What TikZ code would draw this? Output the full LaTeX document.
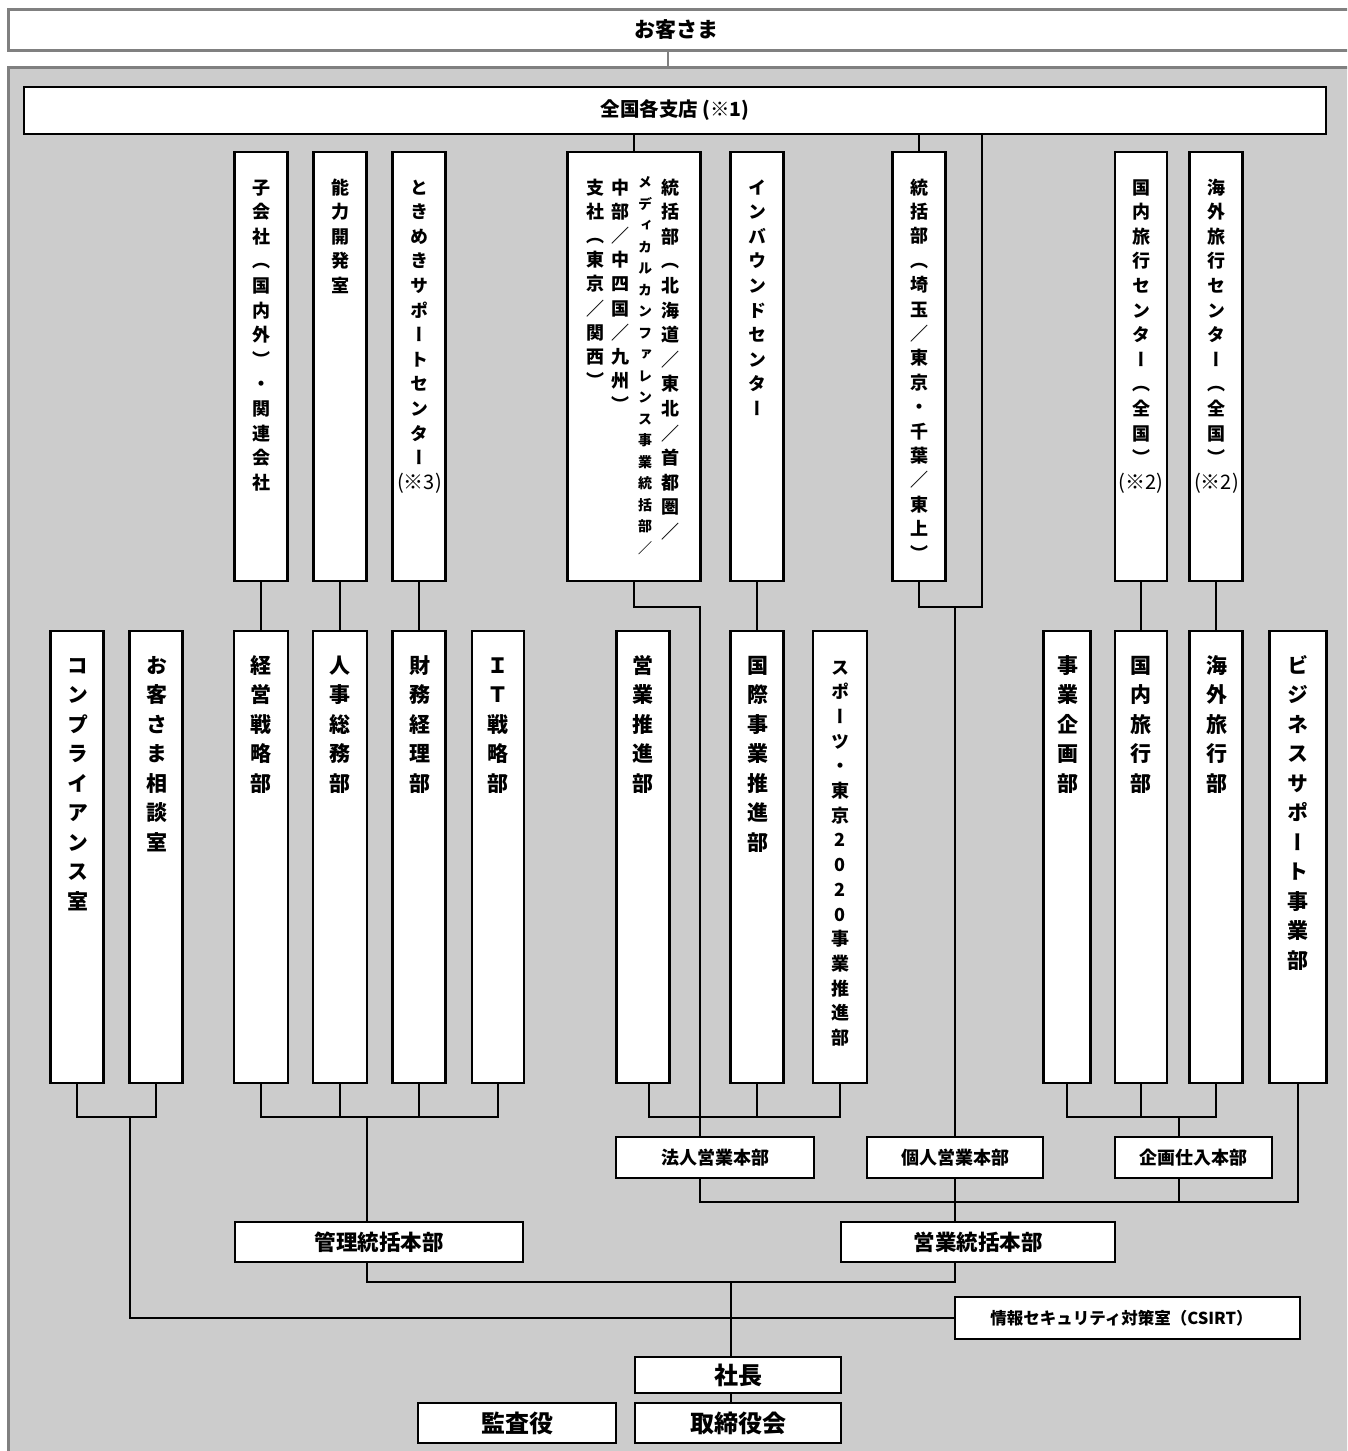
\documentclass[tikz,border=0pt]{standalone}
\usepackage{fontspec}
\usepackage{graphicx}
\newfontfamily\jp{Noto Sans CJK JP}
\newfontfamily\jpv[RawFeature=+vert]{Noto Sans CJK JP}
\definecolor{bggray}{RGB}{204,204,204}
\definecolor{bdgray}{RGB}{128,128,128}
\newcommand\hfont[1]{\fontsize{#1}{#1}\selectfont\jp\bfseries}
\newcommand\SL{{\jp ／}}
\newcommand\note[1]{{\jp\mdseries\fontsize{20}{20}\selectfont(※#1)}}
\makeatletter
\def\vst@end{}
\def\vst@stop{\vst@end}
\newcommand\vstack[3]{\vbox{\fontsize{#1}{#2}\selectfont\jpv\bfseries
  \baselineskip=#2pt\lineskiplimit=-1000pt\lineskip=0pt
  \vst@#3\vst@end}}
\def\vst@#1{\def\vst@tmp{#1}\ifx\vst@tmp\vst@stop\else
  \hbox to 0pt{\hss\rule{0pt}{.88em}#1\hss}\expandafter\vst@\fi}
\makeatother
\newcommand\bx[6]{\node[obox,minimum width=#4,minimum height=#5] (#1) at (#2,#3) {#6};}
\newcommand\vt[6]{\node[anchor=north,inner sep=0pt] (#1) at (#2,#3) {\vstack{#4}{#5}{#6}};}
\tikzset{
  obox/.style={draw=black,line width=2.4pt,fill=white,inner sep=0pt,rectangle},
  conn/.style={draw=black,line width=2.4pt,line cap=rect}
}
\begin{document}
\begin{tikzpicture}[x=1pt,y=-1pt]
\useasboundingbox (0,0) rectangle (1347,1451);
\clip (0,0) rectangle (1347,1451);
\fill[white] (0,0) rectangle (1347,1451);
% top customer band
\fill[white] (8,9) rectangle (1360,50);
\draw[bdgray,line width=3pt] (1360,9) -- (8,9) -- (8,50) -- (1360,50);
\node[font=\hfont{21}] (okyaku) at (676,29.5) {お客さま};
% gray region
\fill[bggray] (8,67) rectangle (1360,1460);
\draw[bdgray,line width=3pt] (8,1460) -- (8,67) -- (1360,67);
\coordinate (okyB) at (668,51.5);
\coordinate (regT) at (668,65.5);
\draw[bdgray,line width=2.4pt] (okyB) -- (regT);

% branches
\bx{zenkoku}{675}{110.5}{1302}{47}{\hfont{19.5}全国各支店 (※1)}

% top row
\bx{kogaisha}{261}{366.5}{53}{429}{}
\bx{noryoku}{340}{366.5}{53}{429}{}
\bx{tokimeki}{419}{366.5}{53}{429}{}
\bx{tokatsu1}{634}{366.5}{133}{429}{}
\bx{inbound}{757}{366.5}{53}{429}{}
\bx{tokatsu2}{919}{366.5}{53}{429}{}
\bx{kokunaiC}{1141}{366.5}{52}{429}{}
\bx{kaigaiC}{1216}{366.5}{53}{429}{}

% second row
\bx{compliance}{77}{857}{53}{452}{}
\bx{sodan}{156}{857}{53}{452}{}
\bx{keiei}{261}{857}{54}{452}{}
\bx{jinji}{340}{857}{54}{452}{}
\bx{zaimu}{419}{857}{53}{452}{}
\bx{it}{498}{857}{52}{452}{}
\bx{eigyo}{643}{857}{53}{452}{}
\bx{kokusai}{757}{857}{53}{452}{}
\bx{sports}{840}{857}{54}{452}{}
\bx{jigyokikaku}{1067}{857}{47}{452}{}
\bx{kokunaiB}{1141}{857}{52}{452}{}
\bx{kaigaiB}{1216}{857}{53}{452}{}
\bx{bizsup}{1298}{857}{57}{452}{}

% middle / bottom boxes
\bx{hojin}{715}{1157.5}{198}{41}{\hfont{18}法人営業本部}
\bx{kojin}{955}{1157.5}{176}{41}{\hfont{18}個人営業本部}
\bx{kikaku}{1193.5}{1157.5}{157}{41}{\hfont{18}企画仕入本部}
\bx{kanri}{379}{1242}{288}{40}{\hfont{21.5}管理統括本部}
\bx{eigyoT}{978}{1242}{274}{40}{\hfont{21.5}営業統括本部}
\bx{infosec}{1127.5}{1318}{345}{42}{\hfont{16.5}情報セキュリティ対策室（CSIRT）\hspace*{12pt}}
\bx{shacho}{738}{1375}{206}{36}{\hfont{24}社長}
\bx{torishimari}{738}{1423}{206}{40}{\hfont{24}取締役会}
\bx{kansa}{517}{1423}{198}{40}{\hfont{24}監査役}

% connectors
\draw[conn] (tokatsu1.north |- zenkoku.south) -- (tokatsu1.north);
\draw[conn] (tokatsu2.north |- zenkoku.south) -- (tokatsu2.north);
\coordinate (j2) at (982,607);
\draw[conn] (j2 |- zenkoku.south) -- (j2) -| (tokatsu2.south);
\draw[conn] (kojin.north |- j2) -- (kojin.north);
\coordinate (j1) at (700,607);
\draw[conn] (tokatsu1.south) |- (j1) -- (j1 |- hojin.north);
\draw[conn] (kogaisha.south) -- (kogaisha.south |- keiei.north);
\draw[conn] (noryoku.south) -- (noryoku.south |- jinji.north);
\draw[conn] (tokimeki.south) -- (tokimeki.south |- zaimu.north);
\draw[conn] (inbound.south) -- (inbound.south |- kokusai.north);
\draw[conn] (kokunaiC.south) -- (kokunaiC.south |- kokunaiB.north);
\draw[conn] (kaigaiC.south) -- (kaigaiC.south |- kaigaiB.north);

\coordinate (b1) at (130,1117);
\draw[conn] (compliance.south) |- (b1) -| (sodan.south);
\draw[conn] (b1) |- (infosec.west);
\coordinate (b2) at (367,1117);
\draw[conn] (keiei.south) |- (b2) -| (it.south);
\draw[conn] (jinji.south) -- (jinji.south |- b2);
\draw[conn] (zaimu.south) -- (zaimu.south |- b2);
\draw[conn] (b2) -- (b2 |- kanri.north);
\coordinate (b3) at (649,1117);
\draw[conn] (b3 |- eigyo.south) -- (b3) -| (sports.south);
\draw[conn] (kokusai.south) -- (kokusai.south |- b3);
\coordinate (b4) at (1179,1117);
\draw[conn] (jigyokikaku.south) |- (b4) -| (kaigaiB.south);
\draw[conn] (kokunaiB.south) -- (kokunaiB.south |- b4);
\draw[conn] (b4) -- (b4 |- kikaku.north);
\coordinate (b5) at (955,1202);
\draw[conn] (j1 |- hojin.south) |- (b5) -| (bizsup.south);
\draw[conn] (kojin.south) -- (kojin.south |- eigyoT.north);
\draw[conn] (b4 |- kikaku.south) -- (b4 |- b5);
\coordinate (b6) at (731,1282);
\draw[conn] (b2 |- kanri.south) |- (b6) -| (kojin.south |- eigyoT.south);
\draw[conn] (b6) -- (b6 |- shacho.north);
\draw[conn] (b6 |- shacho.south) -- (b6 |- torishimari.north);

% vertical texts, top row
\vt{t-kogaisha}{261}{178}{18}{24.6}{子会社（国内外）・関連会社}
\vt{t-noryoku}{340}{178}{18}{24.6}{能力開発室}
\vt{t-tokimeki}{419.5}{178}{18}{24.6}{ときめきサポートセンター{\note3}}
\vt{t-t1a}{670}{178}{18}{24.6}{統括部（北海道\SL 東北\SL 首都圏\SL}
\vt{t-t1b}{645}{175}{14}{21.5}{メディカルカンファレンス事業統括部\SL}
\vt{t-t1c}{620}{178}{18}{24.2}{中部\SL 中四国\SL 九州）}
\vt{t-t1d}{595}{178}{18}{24.2}{支社（東京\SL 関西）}
\vt{t-inbound}{757.5}{178}{18}{24.6}{インバウンドセンター}
\vt{t-tokatsu2}{919.5}{178}{18}{24.4}{統括部（埼玉\SL 東京・千葉\SL 東上）}
\vt{t-kokunaiC}{1141}{178}{18}{24.6}{国内旅行センター（全国）{\note2}}
\vt{t-kaigaiC}{1216.5}{178}{18}{24.6}{海外旅行センター（全国）{\note2}}

% vertical texts, second row
\vt{t-compliance}{77.5}{654.5}{21}{29.5}{コンプライアンス室}
\vt{t-sodan}{156.5}{654.5}{21}{29.5}{お客さま相談室}
\vt{t-keiei}{261}{654.5}{21}{29.5}{経営戦略部}
\vt{t-jinji}{340}{654.5}{21}{29.5}{人事総務部}
\vt{t-zaimu}{419.5}{654.5}{21}{29.5}{財務経理部}
\vt{t-it}{498}{654.5}{21}{29.5}{ＩＴ戦略部}
\vt{t-eigyo}{642.5}{654.5}{21}{29.5}{営業推進部}
\vt{t-kokusai}{757.5}{654.5}{21}{29.5}{国際事業推進部}
\vt{t-sports}{840}{658}{18}{24.7}{スポーツ・東京2020事業推進部}
\vt{t-jigyokikaku}{1067.5}{654.5}{21}{29.5}{事業企画部}
\vt{t-kokunaiB}{1141}{654.5}{21}{29.5}{国内旅行部}
\vt{t-kaigaiB}{1216.5}{654.5}{21}{29.5}{海外旅行部}
\vt{t-bizsup}{1297.5}{654.5}{21}{29.5}{ビジネスサポート事業部}
\end{tikzpicture}
\end{document}
